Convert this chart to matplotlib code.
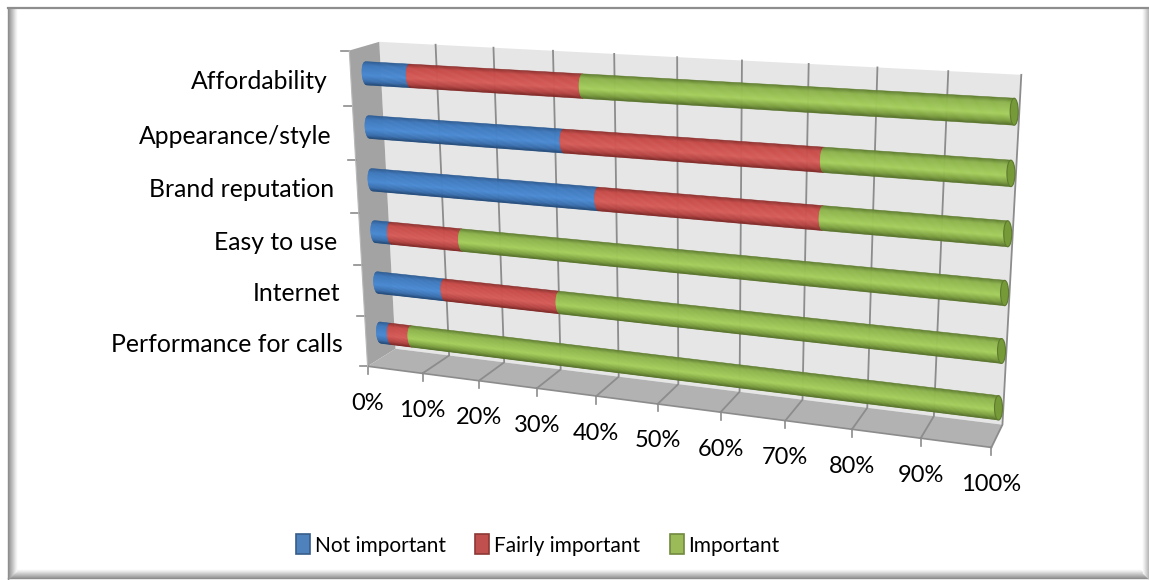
import numpy as np
import matplotlib
matplotlib.use('Agg')
import matplotlib.pyplot as plt
from matplotlib.patches import Ellipse, Patch

plt.rcParams['font.family'] = ['Lato', 'DejaVu Sans']

categories = ['Affordability', 'Appearance/style', 'Brand reputation',
              'Easy to use', 'Internet', 'Performance for calls']
not_important = [7.8, 33.5, 39.0, 3.0, 12.2, 2.0]
fairly_important = [29.0, 40.3, 34.8, 12.7, 20.0, 3.8]
important = [63.2, 26.2, 26.2, 84.3, 67.8, 94.2]
series_names = ['Not important', 'Fairly important', 'Important']
tick_labels = ['0%', '10%', '20%', '30%', '40%', '50%', '60%', '70%', '80%', '90%', '100%']

# colour stops round the cylinder, top edge to bottom edge
shade_t = [-1.0, -0.65, 0.2, 0.7, 1.0]
shades = [
    ['#2c5a90', '#3f79bd', '#4a8ad3', '#3a6fae', '#234a78'],
    ['#8a2f2d', '#c74b48', '#d65c58', '#b34341', '#7c2826'],
    ['#5d7a2e', '#8db34c', '#a5cf5c', '#7b9e3e', '#55702b'],
]
legend_colors = ['#4f81bd', '#c0504d', '#9bbb59']
legend_edges = ['#385d8a', '#8c3836', '#71893f']


def fit_camera():
    # box corners and a few grid points as (x, depth, height) -> pixel position
    corners = [((0, 1, 1), (380, 42)), ((1, 1, 1), (1021.7, 75)),
               ((1, 1, 0), (1002.7, 425)), ((0, 1, 0), (395, 348)),
               ((0, 0, 0), (368, 367)), ((1, 0, 0), (991.7, 447)),
               ((0, 0, 1), (349, 50)),
               ((0.2, 1, 1), (493, 47.8)), ((0.8, 1, 1), (877, 67.6)),
               ((0.3, 0, 0), (537, 388.7)), ((0.9, 0, 0), (920, 437.9))]
    rows = []
    for (x, d, h), (u, v) in corners:
        rows.append([x, d, h, 1, 0, 0, 0, 0, -u*x, -u*d, -u*h, -u])
        rows.append([0, 0, 0, 0, x, d, h, 1, -v*x, -v*d, -v*h, -v])
    return np.linalg.svd(np.array(rows, dtype=float))[2][-1].reshape(3, 4)


camera = fit_camera()


def project(x, d, h):
    x, d, h = np.broadcast_arrays(x, d, h)
    p = camera @ np.array([x, d, h, np.ones_like(x)], dtype=float)
    return p[0]/p[2], p[1]/p[2]


def strip_color(stops, t):
    rgb = np.array([matplotlib.colors.to_rgb(c) for c in stops])
    return [np.interp(t, shade_t, rgb[:, i]) for i in range(3)]


def box_face(ax, pts, color):
    xs, ys = project(*np.array(pts, dtype=float).T)
    ax.fill(xs, ys, facecolor=color, edgecolor='none', zorder=1)


def draw_segment(ax, start, end, level, stops, radius=0.036, bulge=4.0, n_strips=28):
    ts = np.linspace(-1, 1, n_strips + 1)
    xs = np.array([start, end]) / 100
    for t0, t1 in zip(ts[:-1], ts[1:]):
        b0 = bulge*np.sqrt(1 - t0**2)
        b1 = bulge*np.sqrt(1 - t1**2)
        xa0, ya0 = project(xs, 0.5, level - t0*radius)
        xa1, ya1 = project(xs, 0.5, level - t1*radius)
        px = [xa0[0] - b0, xa0[1] - b0, xa1[1] - b1, xa1[0] - b1]
        py = [ya0[0], ya0[1], ya1[1], ya1[0]]
        c = strip_color(stops, (t0 + t1)/2)
        ax.fill(px, py, facecolor=c, edgecolor=c, linewidth=0.4, zorder=3)


def bevel(ax):
    # soft grey frame round the chart area
    for i in range(9):
        g = 0.55 + 0.45*i/9
        ax.plot([8 + i, 8 + i], [8, 579 - i], color=(g, g, g), lw=1.0, zorder=0)
        ax.plot([8 + i, 1148 - i], [578 - i, 578 - i], color=(g, g, g), lw=1.0, zorder=0)
    for i in range(6):
        g = 0.72 + 0.28*i/6
        ax.plot([1148 - i, 1148 - i], [8, 578 - i], color=(g, g, g), lw=1.0, zorder=0)
    ax.plot([8, 1148], [8, 8], color='#8e8e8e', lw=1.6, zorder=0)


fig = plt.figure(figsize=(11.49, 5.80), dpi=100)
ax = fig.add_axes([0, 0, 1, 1])
ax.set_xlim(0, 1149)
ax.set_ylim(580, 0)
ax.axis('off')

bevel(ax)

# walls and floor
box_face(ax, [(0, 1, 0), (1, 1, 0), (1, 1, 1), (0, 1, 1)], '#e6e6e6')
box_face(ax, [(0, 0, 0), (0, 1, 0), (0, 1, 1), (0, 0, 1)], '#a3a3a3')
box_face(ax, [(0, 0, 0), (1, 0, 0), (1, 1, 0), (0, 1, 0)], '#b2b2b2')

# gridlines up the back wall and across the floor, ticks below the floor
grid_color = '#8c8c8c'
for i, label in enumerate(tick_labels):
    x = i/10
    if i > 0:
        gx, gy = project([x, x, x], [0, 1, 1], [0, 0, 1])
        ax.plot(gx, gy, color=grid_color, lw=1.3, zorder=2)
    fx, fy = project(x, 0, 0)
    ax.plot([fx, fx], [fy, fy + 7.5], color=grid_color, lw=1.2, zorder=2)
    ax.text(fx, fy + 37, label, ha='center', va='center', fontsize=17, color='black')

ex, ey = project([0, 1], 0, 0)
ax.plot(ex, ey, color=grid_color, lw=1.2, zorder=2)

# category ticks and labels on the front edge of the left wall
n = len(categories)
for i in range(n + 1):
    tx, ty = project(0, 0, i/n)
    ax.plot([tx - 8, tx], [ty, ty], color=grid_color, lw=1.2, zorder=2)
ex, ey = project(0, 0, [0, 1])
ax.plot(ex, ey, color='#b8b8b8', lw=0.8, zorder=2)

for i, name in enumerate(categories):
    level = 1 - (i + 0.5)/n
    tx, ty = project(0, 0, level)
    ax.text(tx - 23, ty + 3.5, name, ha='right', va='center', fontsize=17.8, color='black')

    vals = [not_important[i], fairly_important[i], important[i]]
    edges = np.concatenate([[0], np.cumsum(vals)])
    for j in range(3):
        draw_segment(ax, edges[j], edges[j + 1], level, shades[j])
    # end cap of the green part
    cx, cy = project(1.0, 0.5, level)
    _, y_top = project(1.0, 0.5, level + 0.036)
    ax.add_patch(Ellipse((cx, cy), 8, 2*(cy - y_top), facecolor='#759a37',
                         edgecolor='#5d7a2e', lw=0.8, zorder=4))

handles = [Patch(facecolor=c, edgecolor=e, lw=1.2) for c, e in zip(legend_colors, legend_edges)]
ax.legend(handles, series_names, ncol=3, loc='center', bbox_to_anchor=(538/1149, 1 - 545/580),
          frameon=False, fontsize=15, handlelength=0.67, handleheight=1.1,
          handletextpad=0.24, columnspacing=1.4, borderpad=0, borderaxespad=0)

fig.savefig('out.png', dpi=100)
